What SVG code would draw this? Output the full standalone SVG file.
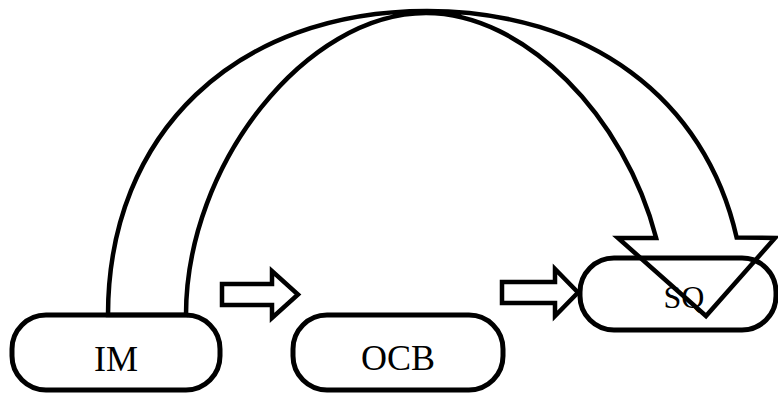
<svg xmlns="http://www.w3.org/2000/svg" width="778" height="393" viewBox="0 0 778 393">
  <style>
    .node { fill: #ffffff; stroke: #000000; stroke-width: 5; }
    .label { font-family: "Liberation Serif", "Times New Roman", serif; font-size: 36px; fill: #000000; text-anchor: middle; }
    .arrow { fill: #ffffff; stroke: #000000; stroke-width: 4.5; stroke-linejoin: miter; }
    .curved { fill: none; stroke: #000000; stroke-width: 4.5; stroke-linejoin: miter; }
  </style>
  <rect width="778" height="393" fill="#ffffff"/>

  <g id="node-im">
    <rect class="node" x="12" y="315" width="208" height="75" rx="34" ry="34"/>
    <text class="label" x="116" y="371">IM</text>
  </g>

  <g id="node-ocb">
    <rect class="node" x="293" y="315" width="210" height="75" rx="34" ry="34"/>
    <text class="label" x="398" y="370">OCB</text>
  </g>

  <g id="node-sq">
    <rect class="node" x="580" y="258" width="196" height="72" rx="34" ry="34"/>
    <text class="label" x="684" y="308" style="font-size:32px">SQ</text>
  </g>

  <g id="connectors">
    <!-- block arrow IM -> OCB -->
    <path class="arrow" d="M222 284 L272 284 L272 271 L298 294.5 L272 318 L272 305 L222 305 Z"/>
    <!-- block arrow OCB -> SQ -->
    <path class="arrow" d="M502 282 L555 282 L555 269 L578 292.5 L555 316 L555 303 L502 303 Z"/>
    <!-- curved band arrow IM -> SQ -->
    <path class="curved" d="M108 315 C108 133 236 11 427 11 C589.35 11 705.46 99.15 736.64 237.5 L775 238 L706 316 L618 238 L656.15 238 C625.06 117.02 525.19 13 426 13 C306.5 13 186 164 186 315 Z"/>
  </g>
</svg>
